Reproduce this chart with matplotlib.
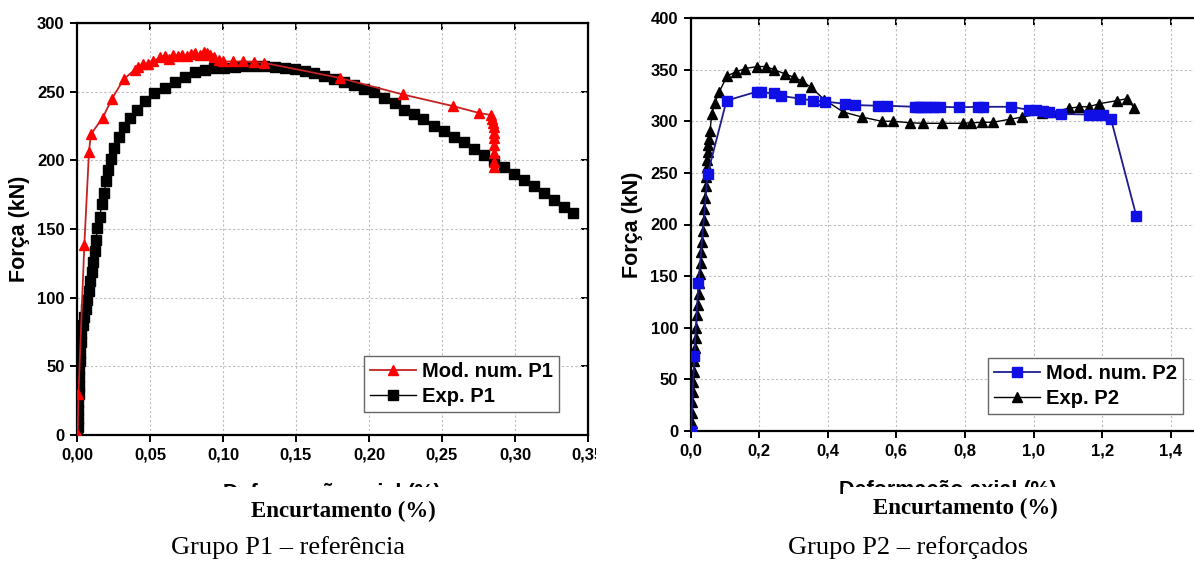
import matplotlib
matplotlib.use("Agg")
import matplotlib.pyplot as plt
from matplotlib.patches import Rectangle

# ---- Grupo P1 data ----
p1_num_x = [0.0005, 0.001, 0.005, 0.0082, 0.0095, 0.0176, 0.024, 0.032, 0.0395, 0.042,
            0.045, 0.0485, 0.052, 0.057, 0.060, 0.063, 0.066, 0.069, 0.072, 0.075,
            0.078, 0.081, 0.084, 0.087, 0.089, 0.091, 0.094, 0.097, 0.100, 0.107,
            0.114, 0.121, 0.128, 0.180, 0.223, 0.2576, 0.2753, 0.2835, 0.2845, 0.285,
            0.2853, 0.2855, 0.2857, 0.2857, 0.2857, 0.2855, 0.2855]
p1_num_y = [0, 30, 138, 206, 219, 231, 245, 259, 266, 268,
            270, 270.5, 272, 275, 276, 274, 276.5, 276, 277, 276,
            277.5, 278, 277, 279, 278, 277, 275, 273, 272, 272,
            272, 271.5, 271, 260, 248, 239.5, 234.5, 233, 230, 227,
            224, 220, 216, 211, 205, 199, 195]

p1_exp_x = [0.0, 0.0005, 0.0008, 0.001, 0.001, 0.0012, 0.0012, 0.0015, 0.0015, 0.0018,
            0.002, 0.0025, 0.003, 0.004, 0.005, 0.006, 0.007, 0.008, 0.009, 0.010,
            0.011, 0.012, 0.013, 0.014, 0.0155, 0.017, 0.0185, 0.020, 0.0215, 0.023,
            0.0255, 0.0285, 0.032, 0.036, 0.041, 0.0465, 0.053, 0.060, 0.067, 0.074,
            0.081, 0.0875, 0.094, 0.101, 0.108, 0.1145, 0.121, 0.128, 0.1357, 0.1428,
            0.149, 0.156, 0.1626, 0.1693, 0.176, 0.183, 0.190, 0.1966, 0.2036, 0.2105,
            0.2176, 0.224, 0.2307, 0.237, 0.2445, 0.2517, 0.2583, 0.2648, 0.272, 0.2785,
            0.2857, 0.2923, 0.299, 0.306, 0.313, 0.3197, 0.3265, 0.3336, 0.340]
p1_exp_y = [0, 6, 12, 18, 24, 30, 36, 42, 48, 54,
            60, 68, 74, 80, 86, 92, 98, 105, 112, 119,
            126, 134, 142, 151, 159, 168, 176, 185, 193, 201,
            209, 217, 224, 231, 237, 243, 249, 253, 257, 260.5,
            264, 266, 267, 267.5, 268, 268.5, 269, 269, 268, 267.5,
            266.5, 265, 263.5, 261.5, 259.5, 257, 255, 252, 249.5, 245.5,
            241.5, 237, 233.5, 230, 225, 221, 217, 213, 208.5, 204,
            199.5, 195, 190, 185.5, 181, 176, 171, 166, 162]

# ---- Grupo P2 data ----
p2_num_x = [0.002, 0.011, 0.023, 0.050, 0.105, 0.193, 0.205, 0.243, 0.263, 0.319,
            0.357, 0.392, 0.450, 0.479, 0.547, 0.573, 0.654, 0.664, 0.673, 0.685,
            0.697, 0.710, 0.726, 0.784, 0.838, 0.852, 0.935, 0.986, 1.008, 1.027,
            1.046, 1.081, 1.163, 1.182, 1.202, 1.226, 1.300]
p2_num_y = [0, 73, 143, 249, 320, 328.6, 328, 327, 324.5, 322,
            320, 319, 317, 315.7, 315, 315, 314, 314, 314, 314,
            314, 314, 314, 313.5, 314, 314, 314, 311, 311, 310,
            309, 307, 306.5, 306, 306, 302, 208]

p2_exp_x = [0.002, 0.003, 0.004, 0.005, 0.006, 0.008, 0.009, 0.011, 0.013, 0.015,
            0.017, 0.019, 0.021, 0.024, 0.026, 0.028, 0.030, 0.032, 0.034, 0.036,
            0.038, 0.040, 0.042, 0.044, 0.045, 0.047, 0.049, 0.050, 0.052, 0.054,
            0.057, 0.062, 0.071, 0.084, 0.107, 0.134, 0.159, 0.194, 0.220, 0.243,
            0.275, 0.302, 0.325, 0.351, 0.390, 0.445, 0.501, 0.557, 0.589, 0.641,
            0.678, 0.733, 0.794, 0.819, 0.851, 0.881, 0.932, 0.967, 1.025, 1.054,
            1.103, 1.134, 1.161, 1.192, 1.244, 1.274, 1.294]
p2_exp_y = [0, 8, 17, 28, 38, 47, 57, 68, 80, 90,
            100, 112, 122, 133, 143, 152, 163, 173, 183, 194,
            204, 215, 226, 237, 246, 256, 262, 270, 277, 283,
            291, 307, 318, 328.6, 344, 348, 351, 353, 353, 350,
            346, 342.5, 339, 333, 321, 309, 304, 300, 300, 298.5,
            298, 298, 298, 298.5, 299, 299, 302, 304, 307.7, 309,
            312.5, 314, 314, 317, 320, 322, 312.5]

p1_xticks = [0.0, 0.05, 0.10, 0.15, 0.20, 0.25, 0.30, 0.35]
p1_xlabels = ["0,00", "0,05", "0,10", "0,15", "0,20", "0,25", "0,30", "0,35"]
p1_yticks = [0, 50, 100, 150, 200, 250, 300]
p2_xticks = [0.0, 0.2, 0.4, 0.6, 0.8, 1.0, 1.2, 1.4]
p2_xlabels = ["0,0", "0,2", "0,4", "0,6", "0,8", "1,0", "1,2", "1,4"]
p2_yticks = [0, 50, 100, 150, 200, 250, 300, 350, 400]

SANS = "Liberation Sans"
SERIF = "Liberation Serif"
W, H = 1194, 562


def style_axes(ax, xticks, xlabels, yticks):
    ax.set_xticks(xticks)
    ax.set_xticklabels(xlabels)
    ax.set_yticks(yticks)
    for lab in ax.get_xticklabels() + ax.get_yticklabels():
        lab.set_fontfamily(SANS)
        lab.set_fontweight("bold")
        lab.set_fontsize(12)
    ax.tick_params(direction="out", length=5, width=1.4, pad=4)
    ax.grid(True, color="#bdbdbd", linestyle=(0, (2, 2)), linewidth=0.8)
    for s in ax.spines.values():
        s.set_linewidth(1.6)
    top = ax.secondary_xaxis("top")
    top.set_xticks(xticks)
    top.tick_params(direction="in", length=5, width=1.4, labeltop=False)
    right = ax.secondary_yaxis("right")
    right.set_yticks(yticks)
    right.tick_params(direction="in", length=5, width=1.4, labelright=False)
    ax.set_ylabel("Força (kN)", fontfamily=SANS, fontweight="bold", fontsize=15.5, labelpad=5)


def px(x0, y0, x1, y1):
    # pixel box -> figure fraction [left, bottom, width, height]
    return [x0 / W, 1 - y1 / H, (x1 - x0) / W, (y1 - y0) / H]


legend_kw = dict(loc="lower right", borderaxespad=0, fancybox=False,
                 edgecolor="#666666", framealpha=1, handlelength=2.3, handletextpad=0.3,
                 borderpad=0.3, labelspacing=0.3,
                 prop={"family": SANS, "weight": "bold", "size": 14.5})

fig = plt.figure(figsize=(W / 100, H / 100), dpi=100)
legend_kw["bbox_transform"] = fig.transFigure

# Left panel
ax1 = fig.add_axes(px(77, 23, 588, 435))
ax1.plot(p1_num_x, p1_num_y, color="#c42222", lw=1.3, marker="^", ms=7.5,
         mfc="red", mec="red", label="Mod. num. P1", zorder=3)
ax1.plot(p1_exp_x, p1_exp_y, color="black", lw=1.0, marker="s", ms=6.5,
         mfc="black", mec="black", label="Exp. P1", zorder=2)
ax1.set_xlim(0, 0.35)
ax1.set_ylim(0, 300)
style_axes(ax1, p1_xticks, p1_xlabels, p1_yticks)
ax1.legend(bbox_to_anchor=(559 / W, 1 - 412 / H), **legend_kw)

# Right panel
ax2 = fig.add_axes(px(690.5, 18, 1205, 431))
ax2.plot(p2_num_x, p2_num_y, color="#1c1c8c", lw=1.3, marker="s", ms=6.5,
         mfc="#1010e6", mec="#1010e6", label="Mod. num. P2", zorder=3)
ax2.plot(p2_exp_x, p2_exp_y, color="black", lw=1.0, marker="^", ms=7,
         mfc="black", mec="black", label="Exp. P2", zorder=2)
ax2.set_xlim(0, 1.5)
ax2.set_ylim(0, 400)
style_axes(ax2, p2_xticks, p2_xlabels, p2_yticks)
ax2.legend(bbox_to_anchor=(1183 / W, 1 - 414 / H), **legend_kw)

# Original axis titles, mostly covered in the source image
fig.text(332 / W, 1 - 483 / H, "Deformação axial (%)", ha="center", va="top",
         fontfamily=SANS, fontweight="bold", fontsize=15.5, zorder=1)
fig.text(947.5 / W, 1 - 480 / H, "Deformação axial (%)", ha="center", va="top",
         fontfamily=SANS, fontweight="bold", fontsize=15.5, zorder=1)
for x0, y0, x1, y1 in [(200, 487, 470, 505), (843, 487, 1080, 505),
                       (825, 494, 843, 505), (596, 437, 640, 465)]:
    fig.patches.append(Rectangle((x0 / W, 1 - y1 / H), (x1 - x0) / W, (y1 - y0) / H,
                                 transform=fig.transFigure, facecolor="white",
                                 edgecolor="none", zorder=5))

# Captions
fig.text(343 / W, 1 - 511 / H, "Encurtamento (%)", ha="center", va="center",
         fontfamily=SERIF, fontweight="bold", fontsize=16.5, zorder=6)
fig.text(965 / W, 1 - 508 / H, "Encurtamento (%)", ha="center", va="center",
         fontfamily=SERIF, fontweight="bold", fontsize=16.5, zorder=6)
fig.text(288 / W, 1 - 548 / H, "Grupo P1 – referência", ha="center", va="center",
         fontfamily=SERIF, fontsize=19, zorder=6)
fig.text(908 / W, 1 - 548 / H, "Grupo P2 – reforçados", ha="center", va="center",
         fontfamily=SERIF, fontsize=19, zorder=6)

fig.savefig("out.png", dpi=100)
plt.close(fig)
